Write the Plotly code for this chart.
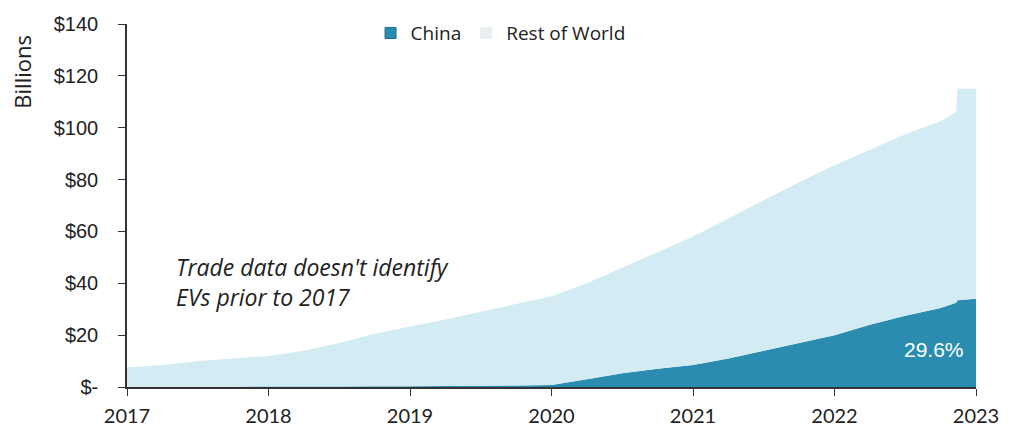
import plotly.graph_objects as go

years = [2017.0, 2017.25, 2017.5, 2017.75, 2018.0, 2018.25, 2018.5, 2018.75,
         2019.0, 2019.25, 2019.5, 2019.75, 2020.0, 2020.25, 2020.5, 2020.75,
         2021.0, 2021.25, 2021.5, 2021.75, 2022.0, 2022.25, 2022.5, 2022.75,
         2022.86, 2022.87, 2023.0]
china = [0.1, 0.1, 0.1, 0.1, 0.2, 0.2, 0.2, 0.3,
         0.3, 0.4, 0.5, 0.6, 0.8, 3.0, 5.3, 7.0,
         8.5, 11.0, 14.0, 17.0, 20.0, 24.0, 27.5, 30.5,
         32.5, 33.5, 34.0]
rest_of_world = [7.4, 8.4, 9.9, 10.9, 11.8, 13.8, 16.8, 20.2,
                 23.0, 25.6, 28.5, 31.4, 34.2, 37.0, 40.7, 45.0,
                 49.5, 54.0, 58.0, 62.0, 65.5, 67.5, 70.0, 72.0,
                 73.5, 81.5, 81.0]
tick_years = [2017, 2018, 2019, 2020, 2021, 2022, 2023]
y_ticks = [0, 20, 40, 60, 80, 100, 120, 140]
y_tick_labels = ["$-", "$20", "$40", "$60", "$80", "$100", "$120", "$140"]
china_share_label = "29.6%"
note_text = "<i>Trade data doesn't identify<br>EVs prior to 2017</i>"

CHINA_COLOR = "#2a8daf"
ROW_COLOR = "#d3ebf2"

fig = go.Figure()
fig.add_trace(go.Scatter(x=years, y=china, stackgroup="one", mode="none",
                         fillcolor=CHINA_COLOR, name="China", showlegend=False,
                         hoverinfo="skip"))
fig.add_trace(go.Scatter(x=years, y=rest_of_world, stackgroup="one", mode="none",
                         fillcolor=ROW_COLOR, name="Rest of World", showlegend=False,
                         hoverinfo="skip"))
# legend entries
fig.add_trace(go.Scatter(x=[None], y=[None], mode="markers", name="China",
                         marker=dict(symbol="square", size=11, color=CHINA_COLOR,
                                     line=dict(color="#1d6d88", width=1))))
fig.add_trace(go.Scatter(x=[None], y=[None], mode="markers", name="Rest of World",
                         marker=dict(symbol="square", size=11, color="#e9eef0",
                                     line=dict(color="#e9eef0", width=1))))

fig.add_annotation(x=2017.33, y=40.5, xref="x", yref="y", text=note_text,
                   showarrow=False, xanchor="left", yanchor="middle", align="left",
                   font=dict(family="Open Sans", size=23, color="#222222"))
fig.add_annotation(x=2022.70, y=14.3, xref="x", yref="y", text=china_share_label,
                   showarrow=False, xanchor="center", yanchor="middle",
                   font=dict(family="Liberation Sans", size=21, color="#ffffff"))
fig.add_annotation(x=-0.123, y=0.975, xref="paper", yref="paper", text="Billions",
                   showarrow=False, textangle=-90, xanchor="center", yanchor="top",
                   font=dict(family="Open Sans", size=22, color="#222222"))

fig.update_layout(
    width=1015, height=422,
    margin=dict(l=119, r=47, t=16, b=43, autoexpand=False),
    paper_bgcolor="white", plot_bgcolor="white",
    legend=dict(orientation="h", x=0.44, xanchor="center", y=0.975, yanchor="middle",
                traceorder="normal",
                font=dict(family="Open Sans", size=19, color="#222222"),
                bgcolor="rgba(0,0,0,0)", tracegroupgap=0),
    xaxis=dict(range=[2017, 2023], tickvals=tick_years,
               ticktext=[str(t) for t in tick_years], automargin=False,
               showgrid=False, zeroline=False, showline=True, linecolor="#333333",
               linewidth=1.5, ticks="outside", ticklen=7, tickcolor="#333333",
               ticklabelstandoff=3,
               tickfont=dict(family="Lato", size=20, color="#222222")),
    yaxis=dict(range=[0, 140], tickvals=y_ticks, ticktext=y_tick_labels,
               automargin=False,
               showgrid=False, zeroline=False, showline=True, linecolor="#333333",
               linewidth=1.5, ticks="outside", ticklen=7, tickcolor="#333333",
               ticklabelstandoff=16,
               tickfont=dict(family="Liberation Sans", size=20, color="#222222")),
)

fig.write_html("out.html")
